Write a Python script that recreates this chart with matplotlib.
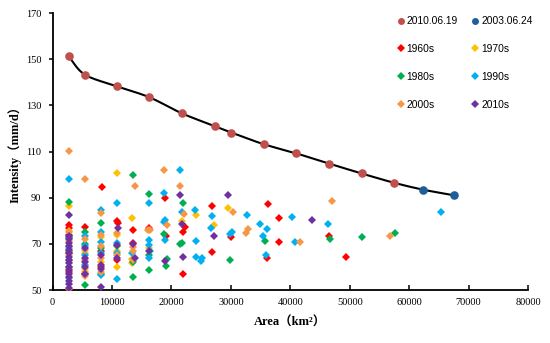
import numpy as np
import matplotlib
matplotlib.use("Agg")
import matplotlib.pyplot as plt
from matplotlib.lines import Line2D

# ---- data ----
ev2010_x = [2700, 5450, 10900, 16300, 21800, 27300, 30100, 35500, 41000, 46500, 52000, 57400]
ev2010_y = [151.2, 143.3, 138.2, 133.5, 126.5, 121.0, 118.2, 113.2, 109.2, 104.8, 100.5, 96.5]
ev2003_x = [62300, 67600]
ev2003_y = [93.5, 91.0]

d1960_x = [2700, 2700, 2700, 2700, 2700, 5400, 5400, 8400, 8100, 8100, 10800, 11000, 10800,
           13600, 13600, 16200, 18900, 19100, 22000, 22300, 21900, 26800, 26800, 30000,
           36300, 38100, 38100, 36100, 46500, 49300]
d1960_y = [78, 77, 74, 66, 58, 77.2, 57, 94.6, 67, 60, 80.1, 79.1, 63,
           76.2, 70.3, 77, 90, 73.2, 75, 77.2, 57, 86.2, 66.3, 72.9,
           87.4, 81.3, 70.7, 63.7, 73.6, 64.3]

d1970_x = [2700, 2700, 2700, 2700, 5400, 5400, 8100, 8100, 10800, 10800, 10800, 10800,
           13400, 13400, 13400, 16300, 21800, 24200, 27100, 29500]
d1970_y = [86.5, 75.5, 69, 62, 66, 59, 73, 62, 100.7, 74, 67, 60,
           81.1, 63.5, 61.6, 68, 80.1, 82.3, 78, 85.7]

d1980_x = [2700, 2700, 2700, 2700, 5400, 5400, 5400, 8100, 8100, 8100, 10800,
           13500, 13500, 13500, 16300, 16300, 16300, 18700, 19200, 19100,
           22000, 21800, 21400, 29800, 35700, 46700, 52100, 57600]
d1980_y = [88.3, 73, 67, 60, 75, 70, 52, 79, 68, 57, 69,
           99.7, 62, 55.5, 91.7, 65, 58.8, 74.3, 63.5, 60.6,
           87.7, 70.3, 70, 63.2, 71.3, 71.9, 73, 74.6]

d1990_x = [2700, 2700, 2700, 2700, 2700, 5400, 5400, 5400, 5400,
           8100, 8100, 8100, 8100, 8100, 10800, 10800, 10800, 10800, 13400,
           16200, 16300, 16300, 16400, 16300, 18700, 19000, 18700, 19000,
           21400, 21800, 24000, 24200, 24200, 24900, 25200, 26700, 26800,
           30200, 29800, 32700, 34900, 36100, 35400, 35900, 40300, 40800, 46300, 65300]
d1990_y = [98.3, 72.4, 68, 63, 55, 73.5, 69, 65, 61,
           84.5, 75, 71, 66, 56.5, 87.7, 70.5, 66, 54.8, 66,
           87.7, 71.7, 69.7, 66.7, 63.9, 92.2, 80.4, 79.4, 71.7,
           101.9, 84, 84.5, 71.1, 64.5, 62.7, 63.7, 77, 82,
           75, 74.3, 82.7, 78.7, 76.5, 73.2, 65.2, 81.6, 70.7, 78.4, 83.7]

d2000_x = [2700, 2700, 2700, 2700, 2700, 2700, 5400, 5400, 5400, 5400, 5400, 5400,
           8100, 8100, 8100, 8100, 8100, 10800, 10800, 13900, 13600, 13600, 13600,
           16000, 16400, 18800, 19300, 21500, 22200, 30300, 32900, 32500, 41600, 47000, 56800]
d2000_y = [110.3, 75, 71.4, 65, 59, 50.5, 98.1, 72, 67.5, 63, 58, 56,
           83.5, 74, 69, 64, 58, 74.5, 65, 94.9, 68.8, 67.1, 63,
           76.1, 75.8, 101.9, 78, 95, 83, 84, 76.5, 74.6, 70.6, 88.5, 73.3]

d2010_x = [2700] * 17 + [5400] * 5 + [8100] * 4 + [11000, 10800, 10800, 13600, 13900,
           16200, 19000, 21400, 21800, 21900, 27100, 29500, 43600]
d2010_y = [82.5, 73.5, 72, 70.5, 69, 67.5, 66, 64.5, 63, 61.5, 60, 58.5, 57, 55.5, 54, 52.5, 51,
           68, 64, 62, 60, 57,
           65, 61, 59, 51.1,
           76.8, 69.5, 64, 70, 64,
           66.8, 62.7, 91.3, 78.4, 64.5, 73.2, 91.3, 80.4]

decades = [
    ("1960s", d1960_x, d1960_y, "#FF0000"),
    ("1970s", d1970_x, d1970_y, "#FFC000"),
    ("1980s", d1980_x, d1980_y, "#00B050"),
    ("1990s", d1990_x, d1990_y, "#00B0F0"),
    ("2000s", d2000_x, d2000_y, "#F79646"),
    ("2010s", d2010_x, d2010_y, "#7030A0"),
]

x_ticks = [0, 10000, 20000, 30000, 40000, 50000, 60000, 70000, 80000]
y_ticks = [50, 70, 90, 110, 130, 150, 170]


def catmull_rom(xs, ys, n=20):
    xs = np.asarray(xs, float)
    ys = np.asarray(ys, float)
    P = np.column_stack([xs, ys])
    P = np.vstack([P[0] - (P[1] - P[0]), P, P[-1] + (P[-1] - P[-2])])
    out = []
    for i in range(1, len(P) - 2):
        p0, p1, p2, p3 = P[i - 1], P[i], P[i + 1], P[i + 2]
        for t in np.linspace(0, 1, n, endpoint=False):
            t2, t3 = t * t, t * t * t
            pt = 0.5 * ((2 * p1) + (-p0 + p2) * t + (2 * p0 - 5 * p1 + 4 * p2 - p3) * t2
                        + (-p0 + 3 * p1 - 3 * p2 + p3) * t3)
            out.append(pt)
    out.append(P[-2])
    out = np.array(out)
    return out[:, 0], out[:, 1]


fig = plt.figure(figsize=(5.5, 3.43), dpi=100)
ax = fig.add_axes([0.0955, 0.1545, 0.8645, 0.8075])

ms_d = 4.0
for label, xs, ys, c in decades:
    ax.plot(xs, ys, linestyle="none", marker="D", markersize=ms_d, color=c,
            markeredgewidth=0, zorder=3)

lx, ly = catmull_rom(ev2010_x + ev2003_x, ev2010_y + ev2003_y)
ax.plot(lx, ly, color="black", linewidth=1.5, zorder=4)
ax.plot(ev2010_x, ev2010_y, linestyle="none", marker="o", markersize=6.2,
        color="#C0504D", markeredgewidth=0, zorder=5)
ax.plot(ev2003_x, ev2003_y, linestyle="none", marker="o", markersize=6.2,
        color="#1F5F99", markeredgewidth=0, zorder=5)

ax.set_xlim(0, 80000)
ax.set_ylim(50, 170)
ax.set_xticks(x_ticks)
ax.set_yticks(y_ticks)
ax.set_xticklabels([str(v) for v in x_ticks])
ax.set_yticklabels([str(v) for v in y_ticks])
for s in ["top", "right"]:
    ax.spines[s].set_visible(False)
for s in ["left", "bottom"]:
    ax.spines[s].set_linewidth(1.3)
    ax.spines[s].set_color("black")
ax.tick_params(axis="x", direction="in", length=3.5, width=1.1, labelsize=7.5, pad=6)
ax.tick_params(axis="y", direction="out", length=3, width=1.1, labelsize=7.5, pad=5)
for t in ax.get_xticklabels() + ax.get_yticklabels():
    t.set_family("Liberation Serif")

lab_fam = ["Liberation Serif", "Noto Sans CJK SC"]
ax.set_xlabel("Area（km²）", family=lab_fam, fontweight="bold", fontsize=9, labelpad=7)
ax.set_ylabel("Intensity（mm/d）", family=lab_fam, fontweight="bold", fontsize=9, labelpad=3)

def h_circle(c):
    return Line2D([], [], linestyle="none", marker="o", markersize=5, color=c, markeredgewidth=0)

def h_diam(c):
    return Line2D([], [], linestyle="none", marker="D", markersize=3.6, color=c, markeredgewidth=0)

dc = {d[0]: d[3] for d in decades}
handles = [h_circle("#C0504D"), h_diam(dc["1960s"]), h_diam(dc["1980s"]), h_diam(dc["2000s"]),
           h_circle("#1F5F99"), h_diam(dc["1970s"]), h_diam(dc["1990s"]), h_diam(dc["2010s"])]
labels = ["2010.06.19", "1960s", "1980s", "2000s", "2003.06.24", "1970s", "1990s", "2010s"]
leg = fig.legend(handles, labels, ncol=2, loc="upper left", bbox_to_anchor=(0.705, 0.98),
                 frameon=False, handlelength=0.7, handletextpad=0.25, columnspacing=1.3,
                 labelspacing=1.75, prop={"family": "Liberation Sans", "size": 7.4})

fig.savefig("out.png", dpi=100)
